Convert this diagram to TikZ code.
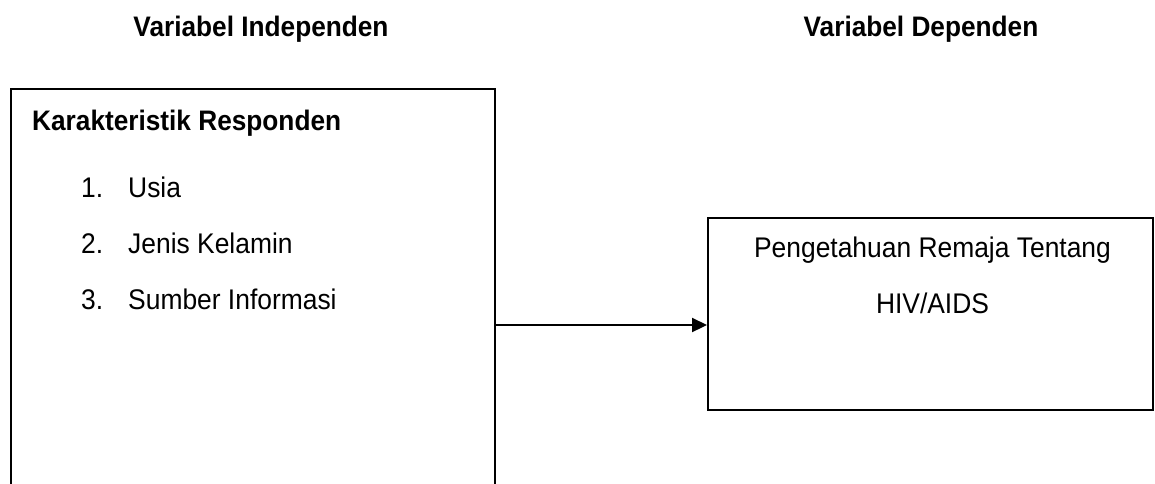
\documentclass[tikz,border=0pt]{standalone}
\usepackage{fontspec}
\setmainfont[FakeStretch=0.93]{Liberation Sans}
\usetikzlibrary{arrows.meta}
\begin{document}
\begin{tikzpicture}[x=1pt,y=-1pt,
  txt/.style={inner sep=0pt,anchor=base west,font=\fontsize{28.4}{32}\selectfont},
  hdr/.style={inner sep=0pt,anchor=base,font=\fontsize{28.2}{32}\selectfont\bfseries},
  frame/.style={draw=black,line width=2.2pt,inner sep=0pt,anchor=north west},
  link/.style={draw=black,line width=2.2pt,-{Triangle[length=15pt,width=14pt]}}]
\useasboundingbox (0,0) rectangle (1155,483);
\clip (0,0) rectangle (1155,483);
% column headings
\node[hdr] (hindep) at (261,36) {Variabel Independen};
\node[hdr] (hdep) at (921,36) {Variabel Dependen};
% independent variable box (runs past the lower edge)
\node[frame,minimum width=484pt,minimum height=420pt] (indep) at (10,88) {};
\node[txt,font=\fontsize{28.2}{32}\selectfont\bfseries] (ttl) at (32,130) {Karakteristik Responden};
\node[txt] (n1) at (81,197) {1.};
\node[txt] (i1) at (128,197) {Usia};
\node[txt] (n2) at (81,253) {2.};
\node[txt] (i2) at (128,253) {Jenis Kelamin};
\node[txt] (n3) at (81,309) {3.};
\node[txt] (i3) at (128,309) {Sumber Informasi};
% dependent variable box
\node[frame,minimum width=445pt,minimum height=192pt] (dep) at (707,217) {};
\node[txt,anchor=base] (d1) at (932.5,257) {Pengetahuan Remaja Tentang};
\node[txt,anchor=base] (d2) at (932.5,313) {HIV/AIDS};
% relation
\draw[link] (indep.east |- 0,325) -- (dep.west |- 0,325);
\end{tikzpicture}
\end{document}
